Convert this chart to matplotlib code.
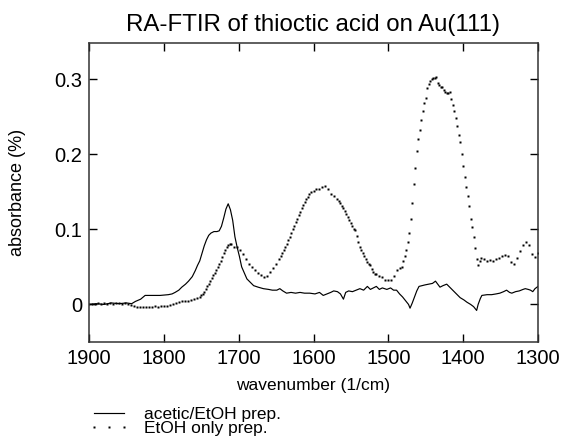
import matplotlib
matplotlib.use("Agg")
import matplotlib.pyplot as plt
from matplotlib.lines import Line2D

plt.rcParams['font.family'] = ['Liberation Sans', 'DejaVu Sans']

# acetic/EtOH prep. (solid line)
acetic_wn = [1900, 1890, 1880, 1870, 1860, 1850, 1843, 1838, 1831, 1825,
             1815, 1805, 1794, 1789, 1785, 1780, 1776, 1771, 1767, 1762,
             1758, 1755, 1752, 1749, 1746, 1743, 1740, 1737, 1733, 1729,
             1726, 1723, 1720, 1717, 1714, 1711, 1708, 1705, 1702, 1699,
             1696, 1692, 1689, 1684, 1680, 1674, 1667, 1660, 1655, 1649,
             1645, 1641, 1636, 1630, 1624, 1618, 1612, 1605, 1598, 1592,
             1587, 1582, 1577, 1573, 1568, 1564, 1560, 1557, 1553, 1548,
             1543, 1538, 1533, 1528, 1524, 1520, 1516, 1512, 1508, 1502,
             1497, 1493, 1489, 1485, 1481, 1477, 1473, 1471, 1468, 1465,
             1462, 1459, 1455, 1451, 1446, 1441, 1437, 1434, 1431, 1427,
             1422, 1417, 1412, 1408, 1404, 1399, 1395, 1390, 1386, 1382,
             1380, 1377, 1375, 1368, 1362, 1356, 1351, 1346, 1342, 1338,
             1335, 1330, 1325, 1320, 1317, 1313, 1310, 1307, 1304, 1300]
acetic_abs = [0.000, 0.001, 0.000, 0.002, 0.001, 0.002, 0.001, 0.004, 0.007, 0.012,
              0.012, 0.012, 0.013, 0.014, 0.016, 0.019, 0.023, 0.027, 0.031, 0.037,
              0.045, 0.052, 0.058, 0.068, 0.078, 0.086, 0.092, 0.095, 0.097, 0.097,
              0.098, 0.104, 0.115, 0.127, 0.134, 0.126, 0.112, 0.090, 0.076, 0.064,
              0.050, 0.041, 0.034, 0.029, 0.025, 0.023, 0.021, 0.020, 0.019, 0.019,
              0.021, 0.018, 0.015, 0.016, 0.015, 0.016, 0.015, 0.015, 0.014, 0.016,
              0.012, 0.014, 0.016, 0.018, 0.017, 0.014, 0.007, 0.016, 0.018, 0.017,
              0.019, 0.021, 0.019, 0.024, 0.020, 0.022, 0.024, 0.020, 0.022, 0.020,
              0.022, 0.019, 0.019, 0.014, 0.010, 0.005, 0.000, -0.005, 0.002, 0.010,
              0.018, 0.024, 0.025, 0.026, 0.027, 0.028, 0.031, 0.027, 0.023, 0.025,
              0.027, 0.022, 0.017, 0.013, 0.009, 0.006, 0.003, 0.000, -0.003, -0.008,
              0.000, 0.008, 0.012, 0.013, 0.013, 0.014, 0.015, 0.017, 0.019, 0.016,
              0.015, 0.017, 0.018, 0.020, 0.021, 0.020, 0.019, 0.017, 0.021, 0.024]

# EtOH only prep. (dotted)
etoh_wn = [1900, 1896, 1892, 1888, 1884, 1880, 1876, 1872, 1868, 1864,
           1860, 1856, 1852, 1848, 1844, 1840, 1836, 1832, 1828, 1824,
           1820, 1816, 1812, 1808, 1804, 1800, 1796, 1792, 1788, 1784,
           1780, 1776, 1772, 1768, 1764, 1760, 1756, 1752,
           1750, 1748, 1746, 1744, 1742, 1740, 1738, 1736, 1734, 1732,
           1730, 1728, 1726, 1724, 1722, 1720, 1718, 1716, 1714, 1712, 1710,
           1706, 1702, 1698, 1694, 1690, 1686, 1682, 1678, 1674, 1670,
           1666, 1662, 1658, 1654, 1650, 1646,
           1644, 1642, 1640, 1638, 1636, 1634, 1632, 1630, 1628, 1626,
           1624, 1622, 1620, 1618, 1616, 1614, 1612, 1610, 1608, 1606, 1604,
           1600, 1596, 1592, 1588, 1584, 1580, 1576, 1572, 1568,
           1566, 1564, 1562, 1560, 1558, 1556, 1554, 1552, 1550, 1548,
           1546, 1544, 1542, 1540, 1538, 1536, 1534, 1532, 1530, 1528,
           1526, 1524, 1522, 1520, 1518, 1516,
           1512, 1508, 1504, 1500, 1496, 1492, 1488, 1484,
           1482, 1480, 1478, 1476, 1474, 1472, 1470, 1468, 1466, 1464,
           1462, 1460, 1458, 1456, 1454, 1452, 1450, 1448, 1446, 1444,
           1442, 1440, 1438, 1436, 1434, 1432, 1430, 1428, 1426, 1424,
           1422, 1420, 1418, 1416, 1414, 1412, 1410, 1408, 1406, 1404,
           1402, 1400, 1398, 1396, 1394, 1392, 1390, 1388, 1386, 1384,
           1382, 1380, 1378,
           1376, 1372, 1368, 1364, 1360, 1356, 1352, 1348, 1344, 1340,
           1336, 1332, 1328, 1324, 1320, 1316, 1312, 1308, 1304, 1300]
etoh_abs = [0.000, 0.001, 0.000, 0.002, 0.001, 0.002, 0.001, 0.002, 0.001, 0.002,
            0.002, 0.001, 0.002, 0.001, -0.001, -0.002, -0.003, -0.004, -0.003, -0.004,
            -0.003, -0.003, -0.002, -0.003, -0.002, -0.002, -0.002, -0.001, 0.001, 0.002,
            0.003, 0.004, 0.004, 0.005, 0.006, 0.007, 0.008, 0.010,
            0.012, 0.014, 0.017, 0.020, 0.024, 0.027, 0.031, 0.035, 0.039, 0.042,
            0.046, 0.050, 0.054, 0.058, 0.063, 0.068, 0.072, 0.076, 0.079, 0.081, 0.080,
            0.077, 0.076, 0.073, 0.067, 0.060, 0.054, 0.050, 0.046, 0.042, 0.039,
            0.036, 0.038, 0.043, 0.048, 0.054, 0.061,
            0.065, 0.068, 0.072, 0.076, 0.081, 0.086, 0.090, 0.095, 0.100, 0.105,
            0.110, 0.114, 0.119, 0.123, 0.128, 0.133, 0.137, 0.140, 0.143, 0.147, 0.149,
            0.151, 0.153, 0.154, 0.156, 0.157, 0.154, 0.147, 0.145, 0.140,
            0.138, 0.135, 0.131, 0.128, 0.124, 0.121, 0.116, 0.112, 0.108, 0.104,
            0.101, 0.099, 0.091, 0.083, 0.077, 0.072, 0.068, 0.064, 0.060, 0.057,
            0.054, 0.052, 0.047, 0.043, 0.041, 0.040,
            0.038, 0.036, 0.033, 0.032, 0.033, 0.038, 0.046, 0.049,
            0.050, 0.058, 0.064, 0.072, 0.083, 0.095, 0.114, 0.135, 0.160, 0.182,
            0.204, 0.220, 0.232, 0.245, 0.258, 0.268, 0.275, 0.288, 0.294, 0.298,
            0.300, 0.301, 0.302, 0.303, 0.295, 0.292, 0.290, 0.289, 0.285, 0.283,
            0.282, 0.281, 0.283, 0.274, 0.266, 0.258, 0.248, 0.238, 0.226, 0.216,
            0.200, 0.184, 0.170, 0.156, 0.145, 0.131, 0.114, 0.103, 0.090, 0.075,
            0.060, 0.053, 0.058,
            0.062, 0.060, 0.058, 0.059, 0.058, 0.061, 0.062, 0.064, 0.066, 0.064,
            0.057, 0.054, 0.062, 0.071, 0.079, 0.083, 0.079, 0.067, 0.063, 0.068]

x_ticks = [1900, 1800, 1700, 1600, 1500, 1400, 1300]
y_ticks = [0, 0.1, 0.2, 0.3]
y_ticklabels = ["0", "0.1", "0.2", "0.3"]

fig = plt.figure(figsize=(5.64, 4.4), dpi=100)
ax = fig.add_axes([89 / 564, 1 - 342 / 440, 449 / 564, 299 / 440])

ax.plot(acetic_wn, acetic_abs, color="black", lw=0.85)
ax.plot(etoh_wn, etoh_abs, linestyle="none", marker="s", ms=1.6,
        mfc="black", mec="none")

ax.set_xlim(1900, 1300)
ax.set_ylim(-0.05, 0.348)
ax.set_xticks(x_ticks)
ax.set_yticks(y_ticks)
ax.set_yticklabels(y_ticklabels)
ax.tick_params(direction="in", length=6, width=1, labelsize=14.5,
               top=True, right=True, pad=5, colors="black")
for s in ax.spines.values():
    s.set_linewidth(1.1)
    s.set_color("#333333")

ax.set_title("RA-FTIR of thioctic acid on Au(111)", fontsize=17.3, pad=9)
ax.set_xlabel("wavenumber (1/cm)", fontsize=12.5, labelpad=7)
ax.set_ylabel("absorbance (%)", fontsize=13)
ax.yaxis.set_label_coords(-63 / 449, 0.5)

handles = [Line2D([], [], color="black", lw=0.85),
           Line2D([], [], linestyle="none", marker="s", ms=1.6,
                  mfc="black", mec="none")]
fig.legend(handles, ["acetic/EtOH prep.", "EtOH only prep."],
           loc="upper left", bbox_to_anchor=(82 / 564, 1 - 400 / 440),
           frameon=False, fontsize=12.5, numpoints=3, handlelength=2.3,
           handletextpad=0.9, labelspacing=-0.05, borderaxespad=0)

fig.savefig("out.png", dpi=100)
